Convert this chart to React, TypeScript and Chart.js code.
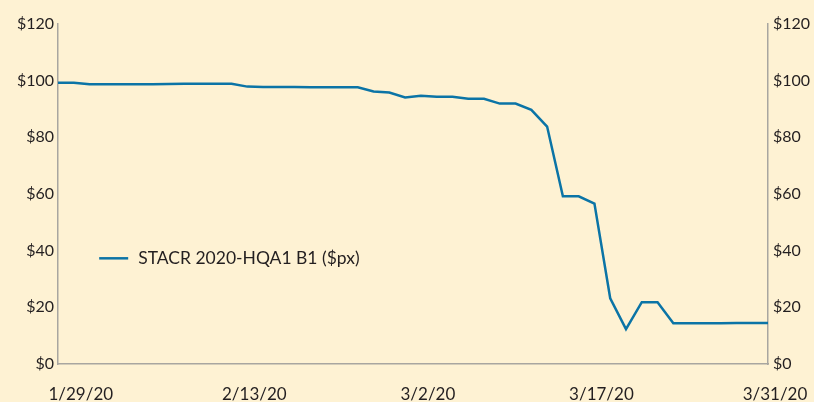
import React, { useEffect, useRef } from "react";
import { Chart, registerables } from "chart.js";

Chart.register(...registerables);

const DATES: string[] = [
  "1/28/20", "1/29/20", "1/30/20", "1/31/20",
  "2/3/20", "2/4/20", "2/5/20", "2/6/20", "2/7/20",
  "2/10/20", "2/11/20", "2/12/20", "2/13/20", "2/14/20",
  "2/17/20", "2/18/20", "2/19/20", "2/20/20", "2/21/20",
  "2/24/20", "2/25/20", "2/26/20", "2/27/20", "2/28/20",
  "3/2/20", "3/3/20", "3/4/20", "3/5/20", "3/6/20",
  "3/9/20", "3/10/20", "3/11/20", "3/12/20", "3/13/20",
  "3/16/20", "3/17/20", "3/18/20", "3/19/20", "3/20/20",
  "3/23/20", "3/24/20", "3/25/20", "3/26/20", "3/27/20",
  "3/30/20", "3/31/20",
];

const PRICES: number[] = [
  99.3, 99.3, 98.7, 98.7, 98.7, 98.7, 98.7, 98.8, 98.9, 98.9,
  98.9, 98.9, 97.9, 97.8, 97.8, 97.8, 97.7, 97.7, 97.7, 97.7,
  96.2, 95.8, 94.1, 94.7, 94.3, 94.3, 93.6, 93.6, 91.9, 91.9,
  89.7, 83.8, 59.2, 59.2, 56.6, 23.2, 12.3, 21.8, 21.8, 14.4,
  14.4, 14.4, 14.4, 14.5, 14.5, 14.5,
];

const TICK_LABELS: string[] = ["1/29/20", "2/13/20", "3/2/20", "3/17/20", "3/31/20"];
const TICK_INDEX: number[] = [1, 12, 23, 34, 45];

const SERIES_LABEL = "STACR 2020-HQA1 B1 ($px)";
const LINE_COLOR = "#0b74a6";
const BG = "#fef2d3";
const AXIS_COLOR = "#a8a6a0";
const TEXT_COLOR = "#231f20";
const FONT_FAMILY = "Lato, 'Open Sans', sans-serif";

const bgPlugin = {
  id: "bgFill",
  beforeDraw(chart: any) {
    const { ctx, width, height } = chart;
    ctx.save();
    ctx.fillStyle = BG;
    ctx.fillRect(0, 0, width, height);
    ctx.restore();
  },
};

const legendPlugin = {
  id: "inlineLegend",
  afterDraw(chart: any) {
    const { ctx, chartArea } = chart;
    const ds = chart.data.datasets[0];
    const yScale = chart.scales.y;
    const x0 = chartArea.left + (chartArea.right - chartArea.left) * 0.058;
    const y = yScale.getPixelForValue(37.3);
    ctx.save();
    ctx.strokeStyle = ds.borderColor;
    ctx.lineWidth = 2.5;
    ctx.beginPath();
    ctx.moveTo(x0, y);
    ctx.lineTo(x0 + 29, y);
    ctx.stroke();
    ctx.fillStyle = TEXT_COLOR;
    ctx.font = `17.5px ${FONT_FAMILY}`;
    ctx.textBaseline = "middle";
    ctx.textAlign = "left";
    ctx.fillText(ds.label, x0 + 39, y);
    ctx.restore();
  },
};

export default function App() {
  const ref = useRef<HTMLCanvasElement | null>(null);

  useEffect(() => {
    if (!ref.current) return;
    const yTicks = {
      color: TEXT_COLOR,
      font: { family: FONT_FAMILY, size: 16 },
      stepSize: 20,
      padding: 4,
      callback: (v: any) => "$" + v,
    };
    const noGrid = { display: false, drawTicks: false, tickLength: 0 };
    const chart = new Chart(ref.current, {
      type: "line",
      data: {
        labels: DATES,
        datasets: [
          {
            label: SERIES_LABEL,
            data: PRICES,
            borderColor: LINE_COLOR,
            backgroundColor: LINE_COLOR,
            borderWidth: 2.5,
            pointRadius: 0,
            tension: 0,
            yAxisID: "y",
          },
        ],
      },
      options: {
        responsive: false,
        animation: false,
        layout: { padding: { top: 24, left: 0, right: 0, bottom: 0 } },
        plugins: {
          legend: { display: false },
          tooltip: { enabled: false },
          title: { display: false },
        },
        scales: {
          x: {
            type: "category",
            offset: false,
            grid: noGrid,
            border: { display: true, color: AXIS_COLOR, width: 1.5 },
            ticks: {
              autoSkip: false,
              maxRotation: 0,
              minRotation: 0,
              color: TEXT_COLOR,
              font: { family: FONT_FAMILY, size: 17 },
              padding: 20,
              labelOffset: 7,
              callback: (_v: any, i: number) => {
                const k = TICK_INDEX.indexOf(i);
                return k >= 0 ? TICK_LABELS[k] : "";
              },
            },
            afterFit: (s: any) => {
              s.height = 38;
              s.paddingLeft = 0;
              s.paddingRight = 0;
            },
          },
          y: {
            position: "left",
            min: 0,
            max: 120,
            grid: noGrid,
            border: { display: true, color: AXIS_COLOR, width: 1.5 },
            ticks: { ...yTicks },
            afterFit: (s: any) => {
              s.width = 58;
              s.paddingTop = 0;
              s.paddingBottom = 0;
            },
          },
          y2: {
            position: "right",
            min: 0,
            max: 120,
            grid: noGrid,
            border: { display: true, color: AXIS_COLOR, width: 1.5 },
            ticks: { ...yTicks, padding: 5 },
            afterFit: (s: any) => {
              s.width = 46;
              s.paddingTop = 0;
              s.paddingBottom = 0;
            },
          },
        },
      },
      plugins: [bgPlugin, legendPlugin],
    } as any);
    return () => chart.destroy();
  }, []);

  return (
    <div style={{ position: "absolute", left: 0, top: 0, width: 814, height: 402, background: BG }}>
      <canvas ref={ref} width={814} height={402} />
    </div>
  );
}
